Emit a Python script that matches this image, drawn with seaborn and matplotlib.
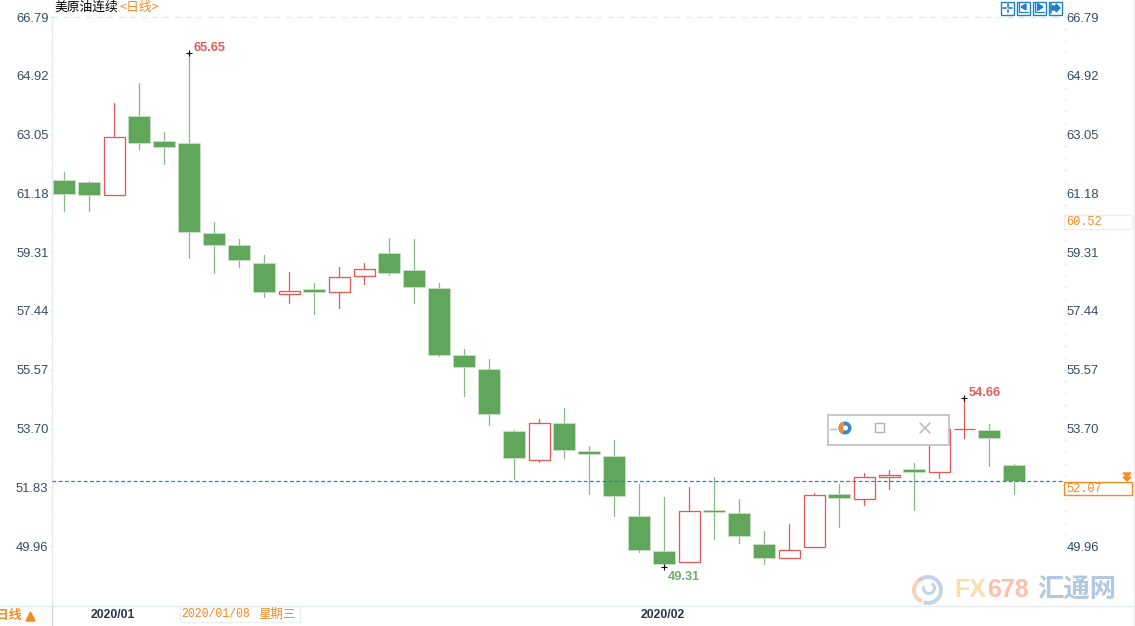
import pandas as pd
import matplotlib
matplotlib.use("Agg")
import matplotlib.pyplot as plt
from matplotlib.patches import Rectangle, Circle, Wedge, Polygon
from matplotlib.transforms import ScaledTranslation
import seaborn as sns

RED = "#e25a5a"
GREEN = "#60a75c"
GREEN_WICK = "#86b983"
ORANGE = "#f58a1f"
BLUE = "#1f80c6"
AXIS = "#e6ebf0"
LABEL = "#3c4a60"
CJK = ["Noto Sans CJK SC", "DejaVu Sans"]

# Daily candles, one value per trading day
opens = [61.60, 61.54, 61.13, 63.64, 62.85, 62.78, 59.92, 59.54, 58.96, 57.98,
         58.14, 58.04, 58.55, 59.28, 58.74, 58.17, 56.04, 55.59, 53.62, 52.70,
         53.88, 52.98, 52.83, 50.92, 49.80, 49.45, 51.11, 51.01, 50.03, 49.58,
         49.93, 51.62, 51.46, 52.16, 52.41, 52.32, 53.67, 53.65, 52.54]
closes = [61.16, 61.13, 62.97, 62.78, 62.65, 59.95, 59.54, 59.06, 58.04, 58.07,
          58.04, 58.52, 58.77, 58.65, 58.20, 56.04, 55.66, 54.16, 52.76, 53.88,
          53.02, 52.89, 51.55, 49.84, 49.39, 51.08, 51.04, 50.28, 49.58, 49.84,
          51.58, 51.49, 52.16, 52.22, 52.32, 53.68, 53.70, 53.40, 52.03]
highs = [61.86, 61.57, 64.05, 64.69, 63.13, 65.65, 60.27, 59.73, 59.22, 58.68,
         58.33, 58.84, 58.96, 59.76, 59.73, 58.33, 56.23, 55.91, 53.65, 54.00,
         54.35, 53.14, 53.33, 51.93, 51.52, 51.84, 52.16, 51.46, 50.44, 50.66,
         51.65, 51.93, 52.28, 52.38, 52.60, 53.72, 54.66, 53.84, 52.57]
lows = [60.62, 60.62, 61.13, 62.59, 62.11, 59.12, 58.65, 58.84, 57.88, 57.69,
        57.34, 57.53, 58.30, 58.58, 57.69, 56.01, 54.73, 53.81, 52.09, 52.63,
        52.76, 51.62, 50.92, 49.77, 49.31, 49.45, 50.19, 50.06, 49.39, 49.58,
        49.93, 50.57, 51.27, 51.78, 51.11, 52.13, 53.40, 52.51, 51.62]

y_ticks = [66.79, 64.92, 63.05, 61.18, 59.31, 57.44, 55.57, 53.70, 51.83, 49.96]
month_days = [1, 23]
month_labels = ["2020/01", "2020/02"]
peaks = [(5, 65.65, RED), (36, 54.66, RED)]
trough = (24, 49.31, "#6fae6b")
last_line = 52.03

sns.set_theme(style="white")
plt.rcParams["font.family"] = ["Liberation Sans", "DejaVu Sans"]

df = pd.DataFrame({"day": range(len(opens)), "open": opens, "close": closes,
                   "high": highs, "low": lows})
df["up"] = df["close"] >= df["open"]
df["top"] = df[["open", "close"]].max(axis=1)
df["bottom"] = df[["open", "close"]].min(axis=1)

fig = plt.figure(figsize=(11.35, 6.26), dpi=100)
ax = fig.add_axes([52 / 1135, 1 - 606 / 626, (1064 - 52) / 1135, 589 / 626])

# wicks
wicks = df.melt(id_vars=["day", "up"], value_vars=["high", "low"], value_name="price")
sns.lineplot(data=wicks, x="day", y="price", units="day", estimator=None, hue="up",
             palette={True: RED, False: GREEN_WICK}, linewidth=0.9, legend=False,
             ax=ax, zorder=2)

# bodies
up = df[df["up"]]
down = df[~df["up"]]
ax.bar(down["day"], (down["top"] - down["bottom"]).clip(lower=0.06), bottom=down["bottom"],
       width=0.85, color=GREEN, edgecolor="#cfe3cd", linewidth=0.5, zorder=3)
ax.bar(up["day"], (up["top"] - up["bottom"]).clip(lower=0.02), bottom=up["bottom"],
       width=0.84, color="white", edgecolor=RED, linewidth=0.95, zorder=3)

ax.set_xlim(-0.48, 40)
ax.set_ylim(66.79 - 589 * 0.03181, 66.79)

ax.axhline(y_ticks[0], color="#e6e6e6", linestyle=(0, (4, 4)), linewidth=1, clip_on=False)
ax.axhline(last_line, color="#2a80d2", linestyle=(0, (3, 2)), linewidth=0.9, zorder=4)

# high / low markers
for day, price, color in peaks:
    ax.plot(day, price, marker="+", color="black", markersize=5, markeredgewidth=0.8, zorder=5)
    ax.annotate(f"{price:.2f}", (day, price), xytext=(5, -1), textcoords="offset pixels",
                color=color, fontsize=9.2, fontweight="bold", va="bottom")
ax.plot(trough[0], trough[1], marker="+", color="black", markersize=5, markeredgewidth=0.8, zorder=5)
ax.annotate(f"{trough[1]:.2f}", (trough[0], trough[1]), xytext=(4, -4),
            textcoords="offset pixels", color=trough[2], fontsize=9.2, fontweight="bold", va="top")

# axes
for side in ["top", "right", "bottom"]:
    ax.spines[side].set_visible(False)
ax.spines["left"].set_color(AXIS)
ax.spines["left"].set_linewidth(1)
ax.set_xlabel("")
ax.set_ylabel("")
ax.set_yticks(y_ticks)
ax.set_yticks([y_ticks[0] - 0.374 * i for i in range(46)], minor=True)
ax.tick_params(axis="y", which="major", left=True, right=True, labelleft=True,
               length=2, width=1, color=AXIS, labelsize=9.4, labelcolor=LABEL, pad=0.5)
ax.tick_params(axis="y", which="minor", left=True, right=True, length=1.5, width=1, color=AXIS)
ax.set_xticks(month_days)
ax.set_xticklabels(month_labels, fontweight="bold", fontsize=8.8, color="#2b3648", ha="left")
ax.tick_params(axis="x", length=3, width=1, color="#c9d2da", pad=-1)
for label in ax.get_xticklabels():
    label.set_transform(label.get_transform() + ScaledTranslation(2 / 100, 0, fig.dpi_scale_trans))
ax.set_ylim(66.79 - 589 * 0.03181, 66.79)

# right hand scale, the 51.83 slot sits under the last price box
right = ax.secondary_yaxis("right")
right.set_yticks([v for v in y_ticks if v != 51.83])
right.spines["right"].set_visible(False)
right.tick_params(axis="y", length=0, labelsize=9.4, labelcolor=LABEL, pad=2)

# page furniture, in picture pixels
ui = fig.add_axes([0, 0, 1, 1], zorder=10)
ui.set_xlim(0, 1135)
ui.set_ylim(626, 0)
ui.axis("off")
ui.patch.set_alpha(0)

ui.text(54, 7, "美原油连续", family=CJK, fontsize=9.2, color="black", va="center")
ui.text(119, 7, "<日线>", family=CJK, fontsize=9.2, color=ORANGE, va="center")

# toolbar icons
for x in [1000, 1016, 1032, 1048]:
    ui.add_patch(Rectangle((x + 0.5, 1.5), 13, 13, fill=False, edgecolor=BLUE, linewidth=1))
ui.plot([1003, 1005.5], [8, 8], color=BLUE, lw=1.2)
ui.plot([1009, 1012], [8, 8], color=BLUE, lw=1.2)
ui.plot([1007.5, 1007.5], [4, 6.5], color=BLUE, lw=1.2)
ui.plot([1007.5, 1007.5], [9.5, 12], color=BLUE, lw=1.2)
ui.plot([1019, 1019, 1028], [3, 12, 12], color=BLUE, lw=0.9)
ui.add_patch(Polygon([[1021, 7], [1026, 4], [1026, 10]], color=BLUE))
ui.plot([1035, 1035, 1044], [3, 12, 12], color=BLUE, lw=0.9)
ui.add_patch(Polygon([[1043, 7], [1037.5, 3.5], [1037.5, 10.5]], color=BLUE))
ui.plot([1051, 1051], [3, 13], color=BLUE, lw=1.2)
ui.add_patch(Polygon([[1060, 8], [1056, 4], [1056, 6], [1052, 6], [1052, 10], [1056, 10], [1056, 12]],
                     color=BLUE))

# right hand price boxes
ui.plot([1134, 1134], [0, 626], color=AXIS, lw=1)
ui.add_patch(Rectangle((1063.5, 215), 68, 14, facecolor="white", edgecolor="#eceff3", lw=1))
ui.text(1066, 222, "60.52", family="Liberation Mono", fontsize=8.6, color=ORANGE, va="center")
ui.add_patch(Rectangle((1064, 481.5), 68, 13, facecolor="white", edgecolor=ORANGE, lw=1))
ui.text(1066, 488.5, "52.07", family="Liberation Mono", fontsize=8.6, color=ORANGE, va="center")
ui.add_patch(Polygon([[1123, 473], [1131, 473], [1127, 477]], color=ORANGE))
ui.add_patch(Polygon([[1123, 477], [1131, 477], [1127, 481]], color=ORANGE))

# bottom bar
ui.plot([0, 1135], [606, 606], color=AXIS, lw=1)
ui.plot([52, 52], [606, 625], color="#cfd6dc", lw=1)
ui.text(-4, 616, "日线", family=CJK, fontsize=9.2, color=ORANGE, fontweight="bold", va="center")
ui.add_patch(Polygon([[26, 621], [35, 621], [30.5, 612]], color=ORANGE))
ui.add_patch(Rectangle((179.5, 606), 120, 16, facecolor="white", edgecolor="#eaf0f5", lw=1))
ui.text(181, 614, "2020/01/08", family="Liberation Mono", fontsize=8.3, color=ORANGE, va="center")
ui.text(258, 614, "星期三", family=CJK, fontsize=9, color=ORANGE, va="center")

# floating window
ui.add_patch(Rectangle((827.5, 414.5), 121, 30, facecolor="white", edgecolor="#bdbdbd", lw=1.2))
ui.plot([830, 836], [429, 429], color="#b5b5b5", lw=1)
ui.add_patch(Circle((845, 428), 6.5, facecolor="#3d86c6", edgecolor="none"))
ui.add_patch(Wedge((845, 428), 6.5, 110, 260, facecolor="#f08a3c", edgecolor="none"))
ui.add_patch(Circle((845.5, 428), 2.5, facecolor="white", edgecolor="none"))
ui.add_patch(Rectangle((875, 423), 9, 9, fill=False, edgecolor="#b0b0b0", lw=1))
ui.plot([920, 930], [423, 433], color="#b5b5b5", lw=1)
ui.plot([920, 930], [433, 423], color="#b5b5b5", lw=1)

# watermark
ui.add_patch(Wedge((928, 590), 15, 230, 110, width=4, facecolor="#9db8d8", edgecolor="none", alpha=0.6))
ui.add_patch(Wedge((926, 590), 14, 110, 250, width=4, facecolor="#f6b48c", edgecolor="none", alpha=0.6))
ui.add_patch(Wedge((929, 588), 7, 300, 200, width=3, facecolor="#9db8d8", edgecolor="none", alpha=0.6))
ui.text(954, 590, "FX", family="Liberation Sans", fontsize=18, fontweight="bold", color="#fbd9a4",
        va="center", alpha=0.9)
ui.text(987, 590, "678", family="Liberation Sans", fontsize=18, fontweight="bold", color="#fbb9a4",
        va="center", alpha=0.9)
ui.text(1037, 590, "汇通网", family=CJK, fontsize=19, fontweight="bold", color="#a8c3df",
        va="center", alpha=0.9)

plt.savefig("out.png", dpi=100)
